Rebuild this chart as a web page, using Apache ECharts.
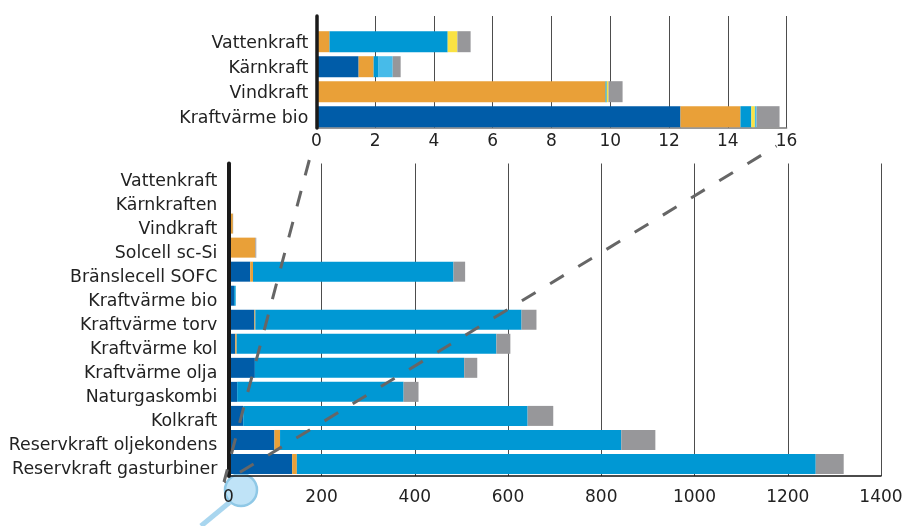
<!DOCTYPE html>
<html><head><meta charset="utf-8">
<style>html,body{margin:0;padding:0;background:#fff}#c{width:905px;height:526px}</style>
<script src="https://cdn.jsdelivr.net/npm/echarts@6/dist/echarts.min.js"></script>
</head><body><div id="c"></div>
<script>
const topCategories = ['Vattenkraft','Kärnkraft','Vindkraft','Kraftvärme bio'];
const topDark   = [0, 1.44, 0, 12.39];
const topOrange = [0.45, 0.51, 9.84, 2.04];
const topBlue   = [4.02, 0.17, 0.04, 0.37];
const topYellow = [0.33, 0, 0.06, 0.12];
const topLight  = [0, 0.48, 0, 0.06];
const topGrey   = [0.45, 0.27, 0.48, 0.78];

const mainCategories = ['Vattenkraft','Kärnkraften','Vindkraft','Solcell sc-Si','Bränslecell SOFC','Kraftvärme bio','Kraftvärme torv','Kraftvärme kol','Kraftvärme olja','Naturgaskombi','Kolkraft','Reservkraft oljekondens','Reservkraft gasturbiner'];
const mainDark   = [0, 1.4, 0, 0, 47, 12.4, 56, 15, 57, 19, 32, 99, 137];
const mainOrange = [0.5, 0.5, 9.8, 58, 6, 0, 2, 3, 0, 0, 0, 12, 10];
const mainBlue   = [4, 0.7, 0.1, 0, 430, 3.4, 571, 557, 449, 357, 610, 732, 1113];
const mainGrey   = [0.7, 0.3, 0.5, 2, 25, 0, 32, 30, 28, 32, 55, 73, 60];

const topTicks = 2, topMax = 16, mainTicks = 200, mainMax = 1400;

const colors = {dark:'#005ca8', orange:'#e9a038', blue:'#0098d4', yellow:'#fae243', light:'#47bbe9', grey:'#97979a'};
const font = '"DejaVu Sans"';
const ink = '#222';

function bar(name, data, color, axis, stack, w){
  return {name, type:'bar', stack, data, xAxisIndex:axis, yAxisIndex:axis, barWidth:w,
    itemStyle:{color}, silent:true, animation:false};
}
const chart = echarts.init(document.getElementById('c'), null, {renderer:'canvas'});
const valueLabel = {color:ink, fontFamily:font, fontSize:17, formatter:v=>String(v), showMinLabel:true, showMaxLabel:true, hideOverlap:false};
chart.setOption({
  animation:false,
  backgroundColor:'#fff',
  grid:[
    {left:316.3, width:470.3, top:29.2, height:100, outerBoundsMode:'none'},
    {left:228.3, width:652.7, top:163.5, height:312.5, outerBoundsMode:'none'},
    {left:316.3, width:470.3, top:16, height:112, outerBoundsMode:'none'}
  ],
  xAxis:[
    {gridIndex:0, type:'value', min:0, max:topMax, show:false},
    {gridIndex:1, type:'value', min:0, max:mainMax, interval:mainTicks,
      axisLine:{show:true, onZero:false, lineStyle:{color:'#111', width:1.5}}, axisTick:{show:false},
      axisLabel:Object.assign({}, valueLabel, {margin:13}),
      splitLine:{show:true, lineStyle:{color:'#4d4d4d', width:1}}},
    {gridIndex:2, type:'value', min:0, max:topMax, interval:topTicks,
      axisLine:{show:true, onZero:false, lineStyle:{color:'#777', width:1.5}}, axisTick:{show:false},
      axisLabel:Object.assign({}, valueLabel, {margin:5}),
      splitLine:{show:true, lineStyle:{color:'#4d4d4d', width:1}}}
  ],
  yAxis:[
    {gridIndex:0, type:'category', inverse:true, data:topCategories,
      axisLine:{show:false}, axisTick:{show:false},
      axisLabel:{color:ink, fontFamily:font, fontSize:17.35, margin:8, verticalAlign:'top', lineHeight:3}},
    {gridIndex:1, type:'category', inverse:true, data:mainCategories, z:6,
      axisLine:{show:true, lineStyle:{color:'#1a1a1a', width:4}}, axisTick:{show:false},
      axisLabel:{color:ink, fontFamily:font, fontSize:17.35, margin:11, verticalAlign:'top', lineHeight:11}},
    {gridIndex:2, type:'value', min:0, max:1, z:6,
      axisLine:{show:true, onZero:false, lineStyle:{color:'#1a1a1a', width:3.5}}, axisTick:{show:false},
      axisLabel:{show:false}, splitLine:{show:false}}
  ],
  series:[
    bar('dark', topDark, colors.dark, 0, 'u', 21),
    bar('orange', topOrange, colors.orange, 0, 'u', 21),
    bar('blue', topBlue, colors.blue, 0, 'u', 21),
    bar('yellow', topYellow, colors.yellow, 0, 'u', 21),
    bar('light', topLight, colors.light, 0, 'u', 21),
    bar('grey', topGrey, colors.grey, 0, 'u', 21),
    bar('dark', mainDark, colors.dark, 1, 'm', 20),
    bar('orange', mainOrange, colors.orange, 1, 'm', 20),
    bar('blue', mainBlue, colors.blue, 1, 'm', 20),
    bar('grey', mainGrey, colors.grey, 1, 'm', 20)
  ],
  graphic:[
    {type:'circle', z:-1, silent:true, shape:{cx:241, cy:490, r:16},
      style:{fill:'#bfe3f7', stroke:'#8fc8e6', lineWidth:2.5}},
    {type:'line', z:-1, silent:true, shape:{x1:230, y1:502, x2:201, y2:526},
      style:{stroke:'#a9d6ef', lineWidth:5}},
    {type:'line', z:50, silent:true, shape:{x1:309.3, y1:160, x2:224, y2:482},
      style:{stroke:'#666', lineWidth:3, lineDash:[16,16]}},
    {type:'line', z:50, silent:true, shape:{x1:776.5, y1:146, x2:224, y2:482},
      style:{stroke:'#666', lineWidth:3, lineDash:[16,17], lineDashOffset:15}}
  ]
});
</script></body></html>
